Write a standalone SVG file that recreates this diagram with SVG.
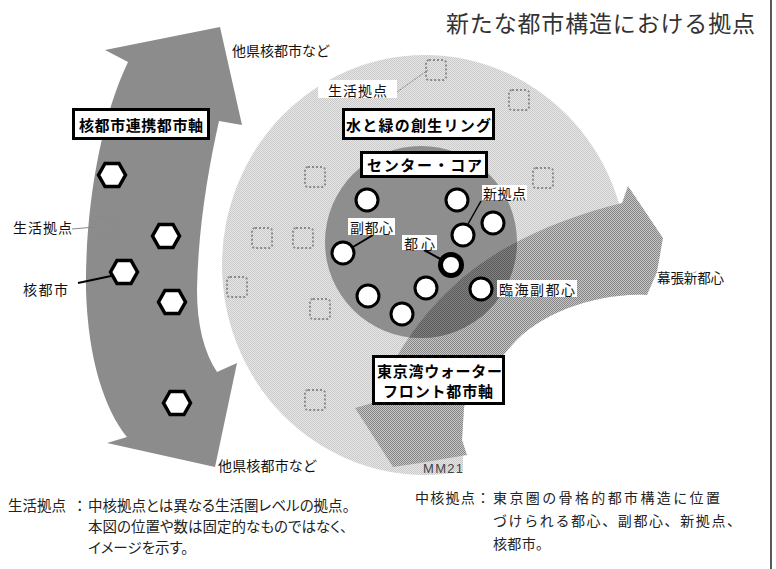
<svg xmlns="http://www.w3.org/2000/svg" width="776" height="569" viewBox="0 0 776 569">
<style>
text{font-family:"Noto Sans CJK JP","Noto Sans CJK SC",sans-serif;fill:#111}
.lbl{font-size:14px}
.bold{font-size:15px;font-weight:700;fill:#000}
.box{fill:#fff;stroke:#000;stroke-width:3}
.wbg{fill:#fff}
.sq{fill:none;stroke:#8a8a8a;stroke-width:2;stroke-dasharray:2 2}
.hex{fill:#fff;stroke:#000;stroke-width:3.5}
.node{fill:#fff;stroke:#000;stroke-width:3}
.ld{stroke:#000;stroke-width:2;fill:none}
.lg{stroke:#888;stroke-width:1;fill:none}
.note{font-size:14.5px;fill:#222;font-feature-settings:"palt"}
.noteR{font-size:14px;fill:#222}
</style>
<defs>
<pattern id="ringPat" width="2" height="2" patternUnits="userSpaceOnUse">
<rect width="2" height="2" fill="#e6e6e6"/><rect width="1" height="1" fill="#cacaca"/><rect x="1" y="1" width="1" height="1" fill="#cacaca"/>
</pattern>
<pattern id="bandPat" width="2" height="2" patternUnits="userSpaceOnUse">
<rect width="2" height="2" fill="#c6c6c6"/><rect width="1" height="1" fill="#868686"/><rect x="1" y="1" width="1" height="1" fill="#868686"/>
</pattern>
<pattern id="darkPat" width="2" height="2" patternUnits="userSpaceOnUse">
<rect width="2" height="2" fill="#808080"/><rect width="1" height="1" fill="#5c5c5c"/><rect x="1" y="1" width="1" height="1" fill="#5c5c5c"/>
</pattern>
<path id="bandShape" d="M355 408 L376 402 C390 360 420 315 460 280 C500 245 560 218 622 203 L628 186 L663 238 L657 272 L647 295 C600 292 540 312 512 345 C495 365 475 385 464 407 L462 440 L467 455 L420 463 L393 467 Z"/>
<clipPath id="ringClip"><path d="M0 0 L776 0 L776 294 L647 295 C600 292 540 312 512 345 C495 365 475 385 464 407 L462 440 L463 457 L463 569 L0 569 Z"/></clipPath>
<clipPath id="coreClip"><circle cx="421" cy="242" r="96"/></clipPath>
</defs>
<rect width="776" height="569" fill="#fff"/>
<line x1="771" y1="0" x2="771" y2="569" stroke="#222" stroke-width="1.5"/>
<text id="title" x="446" y="32" style="font-size:23px;fill:#333" textLength="309">新たな都市構造における拠点</text>

<g id="ring">
<ellipse cx="425" cy="265" rx="203" ry="210" fill="url(#ringPat)" clip-path="url(#ringClip)"/>
</g>

<g id="axis-left">
<path d="M105 50 L220 27 L242 125 L219 121 C208 170 198 230 197 290 C197 325 204 352 217 372 L237 363 L215 467 L107 443 L127 437 C105 410 88 360 86 290 C85 210 100 120 128 62 Z" fill="#8c8c8c"/>
</g>

<g id="axis-bay">
<use href="#bandShape" fill="url(#bandPat)"/>
</g>

<g id="core">
<circle cx="421" cy="242" r="96" fill="#8e8e8e"/>
<use href="#bandShape" fill="url(#darkPat)" clip-path="url(#coreClip)"/>
</g>

<g id="life-points">
<rect class="sq" x="426" y="60" width="20" height="20" rx="3"/>
<rect class="sq" x="509" y="90" width="20" height="20" rx="3"/>
<rect class="sq" x="305" y="167" width="20" height="20" rx="3"/>
<rect class="sq" x="533" y="168" width="20" height="20" rx="3"/>
<rect class="sq" x="252" y="228" width="20" height="20" rx="3"/>
<rect class="sq" x="293" y="228" width="20" height="20" rx="3"/>
<rect class="sq" x="227" y="277" width="20" height="20" rx="3"/>
<rect class="sq" x="310" y="299" width="20" height="20" rx="3"/>
<rect class="sq" x="305" y="390" width="20" height="20" rx="3"/>
<rect class="sq" x="95" y="217" width="20" height="20" rx="3"/>
</g>

<g id="connectors">
<line class="lg" x1="72" y1="229" x2="95" y2="227"/>
<line class="ld" x1="78" y1="283" x2="111" y2="276"/>
<line class="lg" x1="397" y1="92" x2="428" y2="70" stroke-dasharray="2 1"/>
<line class="ld" x1="353" y1="247" x2="373" y2="235"/>
<line class="ld" x1="424" y1="250" x2="444" y2="261"/>
<line class="ld" x1="481" y1="201" x2="468" y2="224" style="stroke-width:1.5"/>
</g>

<g id="core-cities">
<polygon class="hex" points="98.5,175 105,163.5 119,163.5 125.5,175 119,186.5 105,186.5"/>
<polygon class="hex" points="152.5,236 159,224.5 173,224.5 179.5,236 173,247.5 159,247.5"/>
<polygon class="hex" points="110.5,272 117,260.5 131,260.5 137.5,272 131,283.5 117,283.5"/>
<polygon class="hex" points="158.5,302 165,290.5 179,290.5 185.5,302 179,313.5 165,313.5"/>
<polygon class="hex" points="163.5,403 170,391.5 184,391.5 190.5,403 184,414.5 170,414.5"/>
</g>

<g id="core-nodes">
<circle class="node" cx="367" cy="200" r="11"/>
<circle class="node" cx="457" cy="200" r="11"/>
<circle class="node" cx="493" cy="223" r="11"/>
<circle class="node" cx="463" cy="235" r="11"/>
<circle class="node" cx="343" cy="253" r="11"/>
<circle class="node" cx="451" cy="265" r="10.5" style="stroke-width:5"/>
<circle class="node" cx="426" cy="288" r="11"/>
<circle class="node" cx="368" cy="296" r="11"/>
<circle class="node" cx="481" cy="289" r="11"/>
<circle class="node" cx="402" cy="314" r="11"/>
</g>

<g id="label-axis-left">
<rect class="box" x="73.5" y="109.5" width="135" height="29"/>
<text class="bold" x="79" y="131" textLength="124">核都市連携都市軸</text>
</g>
<g id="label-ring">
<rect class="box" x="343.5" y="109.5" width="150" height="29"/>
<text class="bold" x="346" y="131" textLength="145">水と緑の創生リング</text>
</g>
<g id="label-core">
<rect class="box" x="361.5" y="152.5" width="125" height="24"/>
<text class="bold" x="367" y="170.5" textLength="115">センター・コア</text>
</g>
<g id="label-bay">
<rect class="box" x="373.5" y="356.5" width="130" height="47"/>
<text class="bold" x="377" y="377" textLength="125">東京湾ウォーター</text>
<text class="bold" x="383" y="397" textLength="110">フロント都市軸</text>
</g>

<g id="labels">
<text class="lbl" x="232" y="55.5" textLength="98">他県核都市など</text>
<text class="lbl" x="218" y="471" textLength="99">他県核都市など</text>
<text class="lbl" x="13" y="233" textLength="59">生活拠点</text>
<text class="lbl" x="23" y="295" textLength="45">核都市</text>
<rect class="wbg" x="318" y="80" width="79" height="18"/>
<text class="lbl" x="328" y="96" textLength="59">生活拠点</text>
<rect class="wbg" x="348" y="218" width="47" height="17"/>
<text class="lbl" x="350" y="233" textLength="43">副都心</text>
<rect class="wbg" x="402" y="235" width="35" height="15"/>
<text class="lbl" x="404" y="248.5" textLength="31">都心</text>
<rect class="wbg" x="482" y="185" width="45" height="15"/>
<text class="lbl" x="483" y="199" textLength="43">新拠点</text>
<rect class="wbg" x="497" y="280" width="80" height="17"/>
<text class="lbl" x="499" y="295" textLength="76">臨海副都心</text>
<text class="lbl" x="657" y="283" style="font-size:13.5px" textLength="67">幕張新都心</text>
<text x="423" y="473" style="font-family:'Liberation Sans',sans-serif;font-size:13px;fill:#444" textLength="40">MM21</text>
</g>

<g id="notes">
<text class="note" x="8" y="511">生活拠点</text>
<text class="note" x="76" y="511">：</text>
<text class="note" x="88" y="511">中核拠点とは異なる生活圏レベルの拠点。</text>
<text class="note" x="88" y="532">本図の位置や数は固定的なものではなく、</text>
<text class="note" x="88" y="553">イメージを示す。</text>
<text class="noteR" x="415" y="503" textLength="75">中核拠点：</text>
<text class="noteR" x="493" y="503" textLength="227">東京圏の骨格的都市構造に位置</text>
<text class="noteR" x="493" y="526" textLength="248">づけられる都心、副都心、新拠点、</text>
<text class="noteR" x="493" y="549" textLength="57">核都市。</text>
</g>
</svg>
